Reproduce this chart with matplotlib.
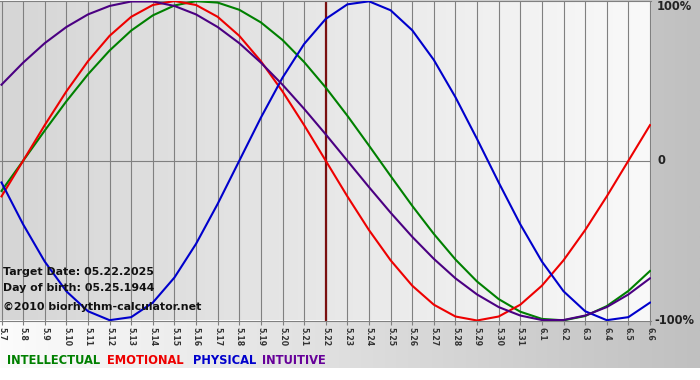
import numpy as np
import matplotlib
matplotlib.use("Agg")
import matplotlib.pyplot as plt
from matplotlib.colors import LinearSegmentedColormap

# ---- data ----
days = ["5.7", "5.8", "5.9", "5.10", "5.11", "5.12", "5.13", "5.14", "5.15", "5.16",
        "5.17", "5.18", "5.19", "5.20", "5.21", "5.22", "5.23", "5.24", "5.25", "5.26",
        "5.27", "5.28", "5.29", "5.30", "5.31", "6.1", "6.2", "6.3", "6.4", "6.5", "6.6"]
intellectual = [-0.189, 0.000, 0.189, 0.372, 0.541, 0.690, 0.815, 0.910, 0.972, 0.999,
                0.990, 0.945, 0.866, 0.756, 0.618, 0.458, 0.282, 0.095, -0.095, -0.282,
                -0.458, -0.618, -0.756, -0.866, -0.945, -0.990, -0.999, -0.972, -0.910, -0.815,
                -0.690]
emotional = [-0.223, 0.000, 0.223, 0.434, 0.623, 0.782, 0.901, 0.975, 1.000, 0.975,
             0.901, 0.782, 0.623, 0.434, 0.223, 0.000, -0.223, -0.434, -0.623, -0.782,
             -0.901, -0.975, -1.000, -0.975, -0.901, -0.782, -0.623, -0.434, -0.223, 0.000,
             0.223]
physical = [-0.136, -0.398, -0.631, -0.817, -0.942, -0.998, -0.979, -0.888, -0.731, -0.520,
            -0.270, 0.000, 0.270, 0.520, 0.731, 0.888, 0.979, 0.998, 0.942, 0.817,
            0.631, 0.398, 0.136, -0.136, -0.398, -0.631, -0.817, -0.942, -0.998, -0.979,
            -0.888]
intuitive = [0.476, 0.614, 0.736, 0.837, 0.916, 0.969, 0.997, 0.997, 0.969, 0.916,
             0.837, 0.736, 0.614, 0.476, 0.325, 0.165, 0.000, -0.165, -0.325, -0.476,
             -0.614, -0.736, -0.837, -0.916, -0.969, -0.997, -0.997, -0.969, -0.916, -0.837,
             -0.736]
target_index = 15
series_names = ["INTELLECTUAL", "EMOTIONAL", "PHYSICAL", "INTUITIVE"]
y_labels = ["100%", "0", "-100%"]

W, H = 700, 380
fig = plt.figure(figsize=(W / 100, H / 100), dpi=100)
fig.patch.set_facecolor("white")

def fx(px):
    return px / W

def fy(py):
    return 1 - py / H

# background gradient (light left -> gray right), top 368 px
bg = fig.add_axes([0, fy(368), 1, fy(0) - fy(368)], zorder=0)
grad = np.linspace(0, 1, 256).reshape(1, -1)
cm_bg = LinearSegmentedColormap.from_list("bg", ["#fcfcfc", "#c0c0c0"])
bg.imshow(grad, aspect="auto", cmap=cm_bg, extent=[0, 1, 0, 1])
bg.set_axis_off()

# main plot axes
left, right, top, bottom = 0, 651, 1, 320.5
ax = fig.add_axes([fx(left), fy(bottom), fx(right) - fx(left), fy(top) - fy(bottom)], zorder=1)
x = np.arange(len(days))
x0 = -1.5 / 21.6
x1 = 30 + 1.0 / 21.6
ax.set_xlim(x0, x1)
ax.set_ylim(-1, 1)
cm_plot = LinearSegmentedColormap.from_list("pl", ["#d6d6d6", "#f9f9f9"])
ax.imshow(grad, aspect="auto", cmap=cm_plot, extent=[x0, x1, -1, 1], zorder=0)

for xi in x:
    ax.axvline(xi, color="#808080", lw=0.8, zorder=1)
ax.axhline(0, color="#808080", lw=0.8, zorder=1)
ax.axvline(target_index, color="#7a0f0f", lw=1.6, zorder=2)

colors = ["#008000", "#ee0000", "#0000cc", "#4b0082"]
for vals, c in zip([intellectual, emotional, physical, intuitive], colors):
    ax.plot(x, vals, color=c, lw=1.5, zorder=3, solid_joinstyle="round")

for s in ["left", "right"]:
    ax.spines[s].set_visible(False)
for s in ["top", "bottom"]:
    ax.spines[s].set_color("#808080")
    ax.spines[s].set_linewidth(0.8)

ax.set_yticks([])
ax.set_xticks(x)
ax.set_xticklabels(days, rotation=270, fontsize=5.6, color="#333333", fontweight="bold")
ax.tick_params(axis="x", length=3, width=0.8, color="#808080", pad=1.5)

fp = dict(fontsize=7.9, fontweight="bold", family="DejaVu Sans")
fig.text(fx(3), fy(272), "Target Date: 05.22.2025", va="center", ha="left", color="#111111", zorder=5, **fp)
fig.text(fx(3), fy(288), "Day of birth: 05.25.1944", va="center", ha="left", color="#111111", zorder=5, **fp)
fig.text(fx(3), fy(307), "\u00a92010 biorhythm-calculator.net", va="center", ha="left", color="#111111", zorder=5, **fp)

fpr = dict(fontsize=8.3, fontweight="bold", family="DejaVu Sans")
fig.text(fx(657), fy(7), y_labels[0], va="center", ha="left", color="#222222", zorder=5, **fpr)
fig.text(fx(657), fy(161), y_labels[1], va="center", ha="left", color="#222222", zorder=5, **fpr)
fig.text(fx(654), fy(321), y_labels[2], va="center", ha="left", color="#222222", zorder=5, **fpr)

legend_x = [7, 107, 193, 262]
legend_colors = ["#008000", "#ee0000", "#0000cc", "#660099"]
for name, lx, c in zip(series_names, legend_x, legend_colors):
    fig.text(fx(lx), fy(361), name, va="center", ha="left", color=c, zorder=5, **fpr)

fig.savefig("out.png", dpi=100)
